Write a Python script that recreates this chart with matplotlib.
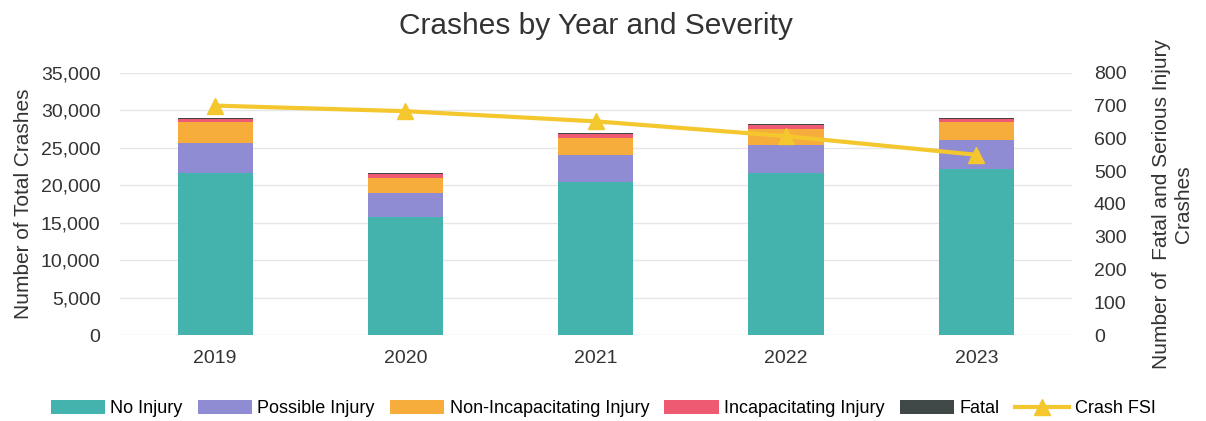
import numpy as np
import matplotlib.pyplot as plt
from matplotlib.ticker import FuncFormatter, MultipleLocator

plt.rcParams['font.family'] = ['Liberation Sans', 'DejaVu Sans']

years = ['2019', '2020', '2021', '2022', '2023']
no_injury = [21700, 15800, 20400, 21600, 22150]
possible_injury = [4000, 3100, 3650, 3750, 3950]
non_incap_injury = [2700, 2050, 2200, 2200, 2350]
incap_injury = [400, 520, 550, 480, 450]
fatal = [120, 110, 110, 90, 100]
crash_fsi = [700, 683, 652, 607, 550]

series = [
    ('No Injury', no_injury, '#45b3ad'),
    ('Possible Injury', possible_injury, '#8f8cd3'),
    ('Non-Incapacitating Injury', non_incap_injury, '#f6ad3c'),
    ('Incapacitating Injury', incap_injury, '#ee5a72'),
    ('Fatal', fatal, '#3f4846'),
]

fig = plt.figure(figsize=(12.06, 4.21), dpi=100)
ax = fig.add_axes([0.0995, 0.204, 0.789, 0.623])
x = np.arange(len(years))

bottom = np.zeros(len(years))
for name, vals, color in series:
    ax.bar(x, vals, width=0.395, bottom=bottom, color=color, label=name, zorder=2)
    bottom += np.array(vals)

ax.set_xlim(-0.5, 4.5)
ax.set_ylim(0, 35000)
ax.yaxis.set_major_locator(MultipleLocator(5000))
ax.yaxis.set_major_formatter(FuncFormatter(lambda v, p: f'{int(v):,}'))
ax.set_xticks(x)
ax.set_xticklabels(years)
ax.grid(axis='y', color='#e6e6e6', linewidth=1, zorder=0)
ax.set_axisbelow(True)
for s in ax.spines.values():
    s.set_visible(False)
ax.tick_params(length=0, labelsize=14, colors='#333333', pad=11)
ax.tick_params(axis='y', pad=14)
ax.set_ylabel('Number of Total Crashes', fontsize=15, color='#333333', labelpad=6)

ax2 = ax.twinx()
ax2.plot(x, crash_fsi, color='#f4c72e', linewidth=3, marker='^', markersize=12,
         label='Crash FSI', zorder=5)
ax2.set_ylim(0, 800)
ax2.yaxis.set_major_locator(MultipleLocator(100))
for s in ax2.spines.values():
    s.set_visible(False)
ax2.tick_params(length=0, labelsize=14, colors='#333333', pad=16)
ax2.set_ylabel('Number of  Fatal and Serious Injury\nCrashes', fontsize=15,
               color='#333333', labelpad=18)

ax.set_title('Crashes by Year and Severity', fontsize=21.5, color='#333333', pad=28)

h1, l1 = ax.get_legend_handles_labels()
h2, l2 = ax2.get_legend_handles_labels()
fig.legend(h1 + h2, l1 + l2, loc='lower center', ncol=6, frameon=False,
           fontsize=13, bbox_to_anchor=(0.5, -0.03), handlelength=3.0,
           handleheight=0.8, columnspacing=0.85, handletextpad=0.3)

fig.savefig('out.png', dpi=100)
